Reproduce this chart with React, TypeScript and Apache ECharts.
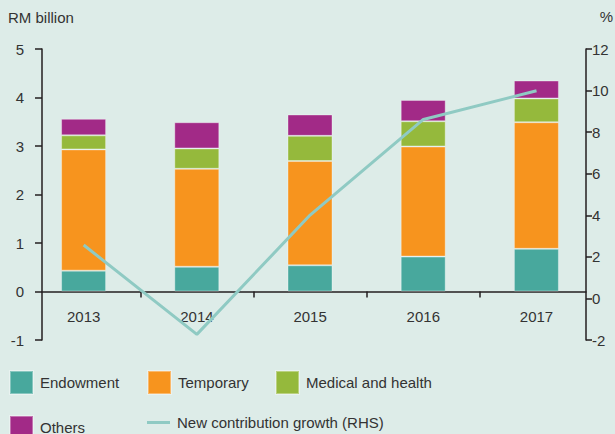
import React, { useEffect, useRef } from "react";
import * as echarts from "echarts";

const years = ["2013", "2014", "2015", "2016", "2017"];
const endowment = [0.43, 0.51, 0.54, 0.72, 0.88];
const temporary = [2.5, 2.02, 2.15, 2.27, 2.61];
const medical = [0.29, 0.42, 0.52, 0.52, 0.49];
const others = [0.34, 0.54, 0.44, 0.44, 0.37];
const growth = [2.57, -1.73, 4.01, 8.61, 9.99];

const leftTicks = { min: -1, max: 5, interval: 1 };
const rightTicks = { min: -2, max: 12, interval: 2 };

const BG = "#ddece8";
const AXIS = "#231f20";
const TEXT = "#333333";
const LINE = "#8fcac3";
const FONT = "Liberation Sans, Arial, sans-serif";

const GRID_TOP = 49;
const GRID_BOTTOM = 94;
const CHART_H = 434;

export default function App() {
  const ref = useRef<HTMLDivElement>(null);
  useEffect(() => {
    if (!ref.current) return;
    const chart = echarts.init(ref.current, undefined, { renderer: "svg" });
    const plotH = CHART_H - GRID_TOP - GRID_BOTTOM;
    // shift x axis from grid bottom up to the zero line of the left axis
    const zeroOffset = -plotH * (0 - leftTicks.min) / (leftTicks.max - leftTicks.min);
    const barSeries = (name: string, data: number[], color: string) => ({
      name,
      type: "bar",
      stack: "total",
      xAxisIndex: 0,
      yAxisIndex: 0,
      barWidth: 45,
      data,
      itemStyle: { color, borderColor: "rgba(255,255,255,0.35)", borderWidth: 1 },
    });
    const legendAt = (left: number, top: number, item: any) => ({
      left,
      top,
      itemWidth: 23,
      itemHeight: 23,
      padding: 0,
      textStyle: { fontSize: 15, color: TEXT, fontFamily: FONT, padding: [0, 0, 0, 2] },
      data: [item],
    });
    chart.setOption({
      animation: false,
      backgroundColor: BG,
      textStyle: { fontFamily: FONT },
      grid: [
        { left: 27, right: 22, top: GRID_TOP, bottom: GRID_BOTTOM },
        { left: 42, right: 29, top: GRID_TOP, bottom: GRID_BOTTOM },
      ],
      graphic: [
        {
          type: "text",
          x: 8,
          y: 17,
          style: { text: "RM billion", fontSize: 15, fill: TEXT, fontFamily: FONT, verticalAlign: "middle", align: "left" },
        },
        {
          type: "text",
          x: 613,
          y: 16,
          style: { text: "%", fontSize: 15, fill: TEXT, fontFamily: FONT, verticalAlign: "middle", align: "right" },
        },
      ],
      legend: [
        legendAt(9, 370, { name: "Endowment", icon: "rect" }),
        legendAt(147, 370, { name: "Temporary", icon: "rect" }),
        legendAt(275, 370, { name: "Medical and health", icon: "rect" }),
        legendAt(9, 415, { name: "Others", icon: "rect" }),
        legendAt(147, 415, {
          name: "New contribution growth (RHS)",
          icon: "path://M0,0H23V3H0Z",
          itemStyle: { color: LINE, borderWidth: 0 },
        }),
      ],
      xAxis: [
        {
          type: "category",
          gridIndex: 0,
          data: years,
          show: false,
        },
        {
          type: "value",
          gridIndex: 1,
          position: "bottom",
          offset: zeroOffset,
          min: -0.368,
          max: 4.437,
          minInterval: 1,
          maxInterval: 1,
          axisLine: { show: true, onZero: false, lineStyle: { color: AXIS, width: 1.5 } },
          axisTick: { show: false },
          minorTick: { show: true, splitNumber: 2, length: 6, lineStyle: { color: AXIS, width: 1.5 } },
          splitLine: { show: false },
          minorSplitLine: { show: false },
          axisLabel: {
            showMinLabel: false,
            showMaxLabel: false,
            margin: 17,
            fontSize: 15,
            color: TEXT,
            fontFamily: FONT,
            formatter: (v: number) => {
              const r = Math.round(v);
              return Math.abs(v - r) < 1e-6 && years[r] ? years[r] : "";
            },
          },
        },
      ],
      yAxis: [
        {
          type: "value",
          gridIndex: 0,
          ...leftTicks,
          show: false,
        },
        {
          type: "value",
          gridIndex: 1,
          position: "left",
          ...leftTicks,
          axisLine: { show: true, onZero: false, lineStyle: { color: AXIS, width: 1.5 } },
          axisTick: { show: true, length: 7, lineStyle: { color: AXIS, width: 1.5 } },
          splitLine: { show: false },
          axisLabel: { margin: 18, fontSize: 15, color: TEXT, fontFamily: FONT },
        },
        {
          type: "value",
          gridIndex: 1,
          position: "right",
          ...rightTicks,
          axisLine: { show: true, onZero: false, lineStyle: { color: AXIS, width: 1.5 } },
          axisTick: { show: true, length: 6, lineStyle: { color: AXIS, width: 1.5 } },
          splitLine: { show: false },
          axisLabel: { margin: 6, fontSize: 15, color: TEXT, fontFamily: FONT },
        },
      ],
      series: [
        barSeries("Endowment", endowment, "#48a89d"),
        barSeries("Temporary", temporary, "#f7941e"),
        barSeries("Medical and health", medical, "#95b93c"),
        barSeries("Others", others, "#a22a87"),
        {
          name: "New contribution growth (RHS)",
          type: "line",
          xAxisIndex: 1,
          yAxisIndex: 2,
          data: growth.map((v, i) => [i, v]),
          symbol: "none",
          lineStyle: { color: LINE, width: 3 },
          itemStyle: { color: LINE },
          z: 5,
        },
      ],
    });
    return () => chart.dispose();
  }, []);
  return (
    <div
      ref={ref}
      style={{ position: "absolute", left: 0, top: 0, width: 615, height: 434 }}
    />
  );
}
